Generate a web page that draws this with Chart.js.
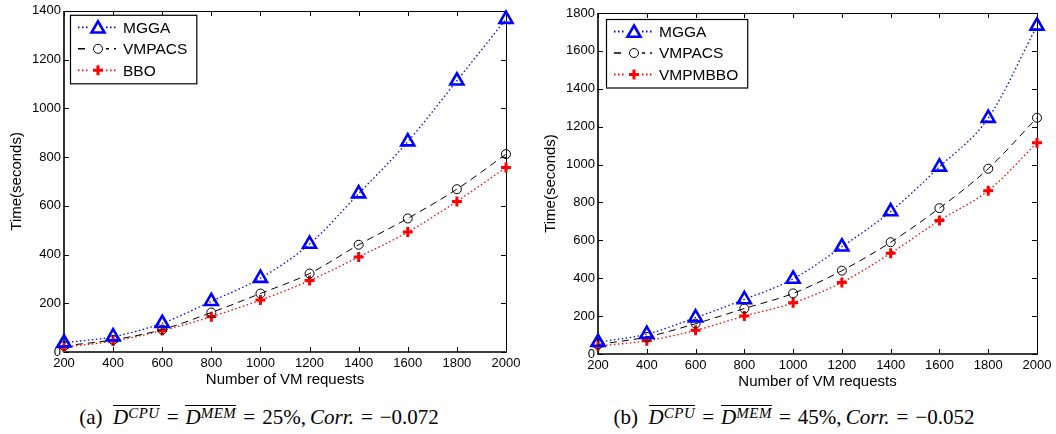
<!DOCTYPE html>
<html>
<head>
<meta charset="utf-8">
<script src="https://cdn.jsdelivr.net/npm/chart.js@4.4.1/dist/chart.umd.min.js"></script>
<style>
    body { margin: 0; background: #fff; width: 1056px; height: 434px; position: relative; overflow: hidden; }
    canvas { position: absolute; top: 0; }
    #chartA { left: 0; }
    #chartB { left: 526px; }
    .caption {
        position: absolute; top: 405px; height: 28px;
        font-family: "Liberation Serif", "Times New Roman", serif; font-size: 21px;
        text-align: center; white-space: nowrap; color: #000;
    }
    .caption i { font-style: italic; }
    .eq { display: inline-block; padding: 0 7px; }
    .ol { display: inline-block; border-top: 1px solid #000; line-height: 20px; padding-top: 1px; }
    .ol sup { font-size: 15px; font-style: italic; vertical-align: 6px; line-height: 0; letter-spacing: 0.5px; }
</style>
</head>
<body>
<canvas id="chartA" width="526" height="400"></canvas>
<canvas id="chartB" width="530" height="400"></canvas>
<div class="caption" style="left:0; width:518px;">(a)&nbsp; <span class="ol"><i>D</i><sup>CPU</sup></span><span class="eq">=</span><span class="ol"><i>D</i><sup>MEM</sup></span><span class="eq">=</span>25%,&thinsp;<i>Corr.</i><span class="eq">=</span>−0.072</div>
<div class="caption" style="left:526px; width:536px;">(b)&nbsp; <span class="ol"><i>D</i><sup>CPU</sup></span><span class="eq">=</span><span class="ol"><i>D</i><sup>MEM</sup></span><span class="eq">=</span>45%,&thinsp;<i>Corr.</i><span class="eq">=</span>−0.052</div>

<script>
// number of VM requests (x axis)
const vmRequests = [200, 400, 600, 800, 1000, 1200, 1400, 1600, 1800, 2000];

// (a) 25% demand
const mggaA   = [38, 63, 118, 208, 303, 443, 650, 863, 1113, 1366];
const vmpacsA = [25, 50, 92, 162, 240, 322, 440, 548, 668, 812];
const bboA    = [20, 45, 88, 145, 213, 293, 390, 492, 618, 757];

// (b) 45% demand
const mggaB    = [62, 105, 192, 288, 396, 566, 752, 988, 1245, 1732];
const vmpacsB  = [50, 90, 160, 240, 320, 440, 590, 770, 978, 1247];
const vmpmbboB = [42, 70, 125, 200, 270, 378, 532, 705, 862, 1115];

const yMaxA = 1400;
const yMaxB = 1800;

const FONT = '"Liberation Sans", Arial, sans-serif';

function toPoints(values) {
    return values.map((v, i) => ({ x: vmRequests[i], y: v }));
}

function seriesStyle(kind) {
    if (kind === 'mgga') {
        return { borderColor: '#0000ff', borderWidth: 1.3, borderDash: [1.5, 2.5],
                 pointStyle: 'triangle', pointRadius: 7.5, pointBorderWidth: 2.6,
                 pointBorderColor: '#0000ff', pointBackgroundColor: 'rgba(0,0,0,0)' };
    }
    if (kind === 'vmpacs') {
        return { borderColor: '#000000', borderWidth: 1, borderDash: [7, 5],
                 pointStyle: 'circle', pointRadius: 4.5, pointBorderWidth: 1,
                 pointBorderColor: '#000000', pointBackgroundColor: 'rgba(0,0,0,0)' };
    }
    return { borderColor: '#ff0000', borderWidth: 1.3, borderDash: [1.5, 2.5],
             pointStyle: 'cross', pointRadius: 5, pointBorderWidth: 3,
             pointBorderColor: '#ff0000', pointBackgroundColor: 'rgba(0,0,0,0)' };
}

// box round the plot with inward ticks on all four sides
const framePlugin = {
    id: 'frame',
    beforeDatasetsDraw(chart) {
        const ctx = chart.ctx;
        const a = chart.chartArea;
        const xs = chart.scales.x;
        const ys = chart.scales.y;
        const L = Math.round(a.left), R = Math.round(a.right);
        const T = Math.round(a.top), B = Math.round(a.bottom);
        ctx.save();
        ctx.strokeStyle = '#000';
        ctx.lineWidth = 1;
        ctx.beginPath();
        ctx.moveTo(L, T + 0.5); ctx.lineTo(R + 0.5, T + 0.5);
        ctx.moveTo(R + 0.5, T); ctx.lineTo(R + 0.5, B);
        ctx.stroke();
        ctx.lineWidth = 1.6;
        ctx.beginPath();
        ctx.moveTo(L, T); ctx.lineTo(L, B);
        ctx.lineTo(R + 1, B);
        ctx.stroke();
        ctx.lineWidth = 1;
        ctx.beginPath();
        xs.ticks.forEach(t => {
            const px = Math.round(xs.getPixelForValue(t.value)) + 0.5;
            ctx.moveTo(px, B); ctx.lineTo(px, B - 5);
            ctx.moveTo(px, T); ctx.lineTo(px, T + 5);
        });
        ys.ticks.forEach(t => {
            const py = Math.round(ys.getPixelForValue(t.value)) + 0.5;
            ctx.moveTo(L, py); ctx.lineTo(L + 5, py);
            ctx.moveTo(R, py); ctx.lineTo(R - 5, py);
        });
        ctx.stroke();
        ctx.restore();
    }
};

// matlab style legend box inside the plot, top left
const boxLegendPlugin = {
    id: 'boxLegend',
    afterDraw(chart, args, opts) {
        const ctx = chart.ctx;
        const a = chart.chartArea;
        const sets = chart.data.datasets;
        const x0 = a.left + opts.dx, y0 = a.top + opts.dy;
        const rowH = 21.5;
        ctx.save();
        ctx.font = '15.5px ' + FONT;
        let maxW = 0;
        sets.forEach(ds => { maxW = Math.max(maxW, ctx.measureText(ds.label).width); });
        const w = 53 + maxW + 9;
        const h = rowH * sets.length + 4;
        ctx.fillStyle = '#fff';
        ctx.fillRect(x0, y0, w, h);
        ctx.strokeStyle = '#000';
        ctx.lineWidth = 1.2;
        ctx.strokeRect(x0 + 0.5, y0 + 0.5, w, h);
        sets.forEach((ds, i) => {
            const cy = y0 + 12.5 + i * rowH;
            ctx.save();
            ctx.strokeStyle = ds.borderColor;
            ctx.lineWidth = ds.borderWidth + 0.5;
            ctx.setLineDash(ds.borderDash);
            ctx.beginPath();
            ctx.moveTo(x0 + 8, cy); ctx.lineTo(x0 + 46, cy);
            ctx.stroke();
            ctx.setLineDash([]);
            ctx.fillStyle = '#fff';
            ctx.fillRect(x0 + 20, cy - 7, 16, 14);
            ctx.strokeStyle = ds.pointBorderColor;
            ctx.fillStyle = 'rgba(0,0,0,0)';
            ctx.lineWidth = ds.pointBorderWidth;
            Chart.helpers.drawPoint(ctx, {
                pointStyle: ds.pointStyle, radius: ds.pointRadius,
                rotation: 0, borderWidth: ds.pointBorderWidth
            }, x0 + 28, ds.pointStyle === 'triangle' ? cy + 1.5 : cy);
            ctx.restore();
            ctx.fillStyle = '#000';
            ctx.textBaseline = 'middle';
            ctx.textAlign = 'left';
            ctx.fillText(ds.label, x0 + 53, cy + 1);
        });
        ctx.restore();
    }
};

function plainNumber(value) {
    return String(value);
}

function makeChart(id, names, series, yMax, layout) {
    const kinds = ['mgga', 'vmpacs', 'other'];
    const datasets = series.map((vals, i) => Object.assign({
        label: names[i],
        data: toPoints(vals),
        cubicInterpolationMode: 'monotone',
        clip: false,
        fill: false
    }, seriesStyle(kinds[i])));

    return new Chart(document.getElementById(id).getContext('2d'), {
        type: 'line',
        data: { datasets: datasets },
        options: {
            responsive: false,
            animation: false,
            devicePixelRatio: 1,
            layout: { padding: { left: 0, top: layout.top, right: layout.right, bottom: 0 } },
            plugins: {
                legend: { display: false },
                tooltip: { enabled: false },
                boxLegend: { dx: layout.legX, dy: layout.legY }
            },
            scales: {
                x: {
                    type: 'linear', min: 200, max: 2000,
                    grid: { display: false, drawTicks: false }, border: { display: false },
                    ticks: { stepSize: 200, color: '#000', padding: 4, maxRotation: 0,
                             callback: plainNumber, font: { family: FONT, size: 13 } },
                    title: { display: true, text: 'Number of VM requests', color: '#000',
                             font: { family: FONT, size: 15 }, padding: { top: 0, bottom: layout.xTitlePad } },
                    afterFit(scale) { scale.height = layout.xH; }
                },
                y: {
                    type: 'linear', min: 0, max: yMax,
                    grid: { display: false, drawTicks: false }, border: { display: false },
                    ticks: { stepSize: 200, color: '#000', padding: 3,
                             callback: plainNumber, font: { family: FONT, size: 13 } },
                    title: { display: true, text: 'Time(seconds)', color: '#000',
                             font: { family: FONT, size: 15 }, padding: { top: layout.yTitlePad, bottom: 0 } },
                    afterFit(scale) { scale.width = layout.yW; }
                }
            }
        },
        plugins: [framePlugin, boxLegendPlugin]
    });
}

makeChart('chartA', ['MGGA', 'VMPACS', 'BBO'], [mggaA, vmpacsA, bboA], yMaxA,
    { top: 8, right: 20, yW: 64, xH: 48, xTitlePad: 11, yTitlePad: 8, legX: 6, legY: 4 });

makeChart('chartB', ['MGGA', 'VMPACS', 'VMPMBBO'], [mggaB, vmpacsB, vmpmbboB], yMaxB,
    { top: 13, right: 19, yW: 72, xH: 46, xTitlePad: 9, yTitlePad: 16, legX: 8, legY: 6 });
</script>
</body>
</html>
